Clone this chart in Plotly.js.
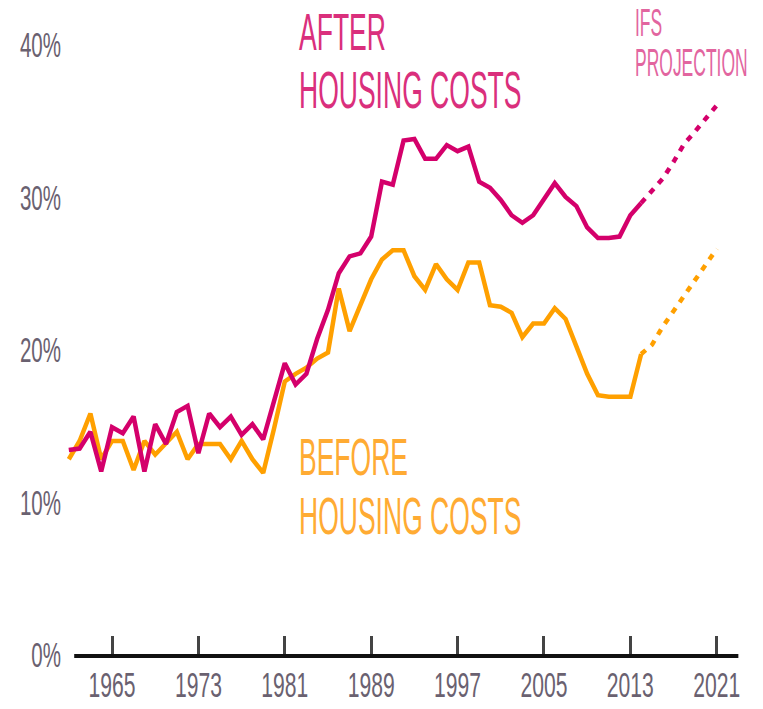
<!DOCTYPE html>
<html>
<head>
<meta charset="utf-8">
<script src="https://cdn.plot.ly/plotly-3.0.1.min.js"></script>
<style>
  html, body { margin: 0; padding: 0; background: #ffffff; }
  #chart { width: 763px; height: 709px; }
</style>
</head>
<body>
<div id="chart"></div>
<script>
// ---- Data ----
const years = [1961, 1962, 1963, 1964, 1965, 1966, 1967, 1968, 1969, 1970,
               1971, 1972, 1973, 1974, 1975, 1976, 1977, 1978, 1979, 1980,
               1981, 1982, 1983, 1984, 1985, 1986, 1987, 1988, 1989, 1990,
               1991, 1992, 1993, 1994, 1995, 1996, 1997, 1998, 1999, 2000,
               2001, 2002, 2003, 2004, 2005, 2006, 2007, 2008, 2009, 2010,
               2011, 2012, 2013, 2014];

// After housing costs (%)
const afterHousing = [13.4, 13.5, 14.6, 12.0, 14.9, 14.5, 15.6, 12.0, 15.1, 13.8,
                      15.9, 16.3, 13.2, 15.8, 14.9, 15.6, 14.4, 15.1, 14.1, 16.6,
                      19.1, 17.7, 18.4, 20.7, 22.6, 25.0, 26.1, 26.3, 27.4, 31.0,
                      30.8, 33.7, 33.8, 32.5, 32.5, 33.4, 33.0, 33.3, 31.0, 30.6,
                      29.8, 28.8, 28.3, 28.8, 29.9, 30.9, 30.0, 29.4, 28.0, 27.3,
                      27.3, 27.4, 28.8, 29.6];

// Before housing costs (%)
const beforeHousing = [12.8, 14.0, 15.8, 12.8, 14.0, 14.0, 12.1, 14.0, 13.1, 13.8,
                       14.6, 12.8, 13.8, 13.8, 13.8, 12.8, 14.0, 12.8, 11.9, 14.8,
                       17.9, 18.4, 18.8, 19.4, 19.8, 24.0, 21.2, 22.9, 24.6, 25.9,
                       26.5, 26.5, 24.8, 23.9, 25.6, 24.6, 23.9, 25.7, 25.7, 22.9,
                       22.8, 22.4, 20.8, 21.7, 21.7, 22.7, 22.0, 20.2, 18.4, 17.0,
                       16.9, 16.9, 16.9, 19.7];

// IFS projection
const projYears = [2014, 2015, 2016, 2017, 2018, 2019, 2020, 2021];
const afterProj  = [29.6, 30.4, 31.2, 32.3, 33.5, 34.3, 35.1, 36.0];
const beforeProj = [19.7, 20.3, 21.5, 22.5, 23.5, 24.5, 25.5, 26.6];

// Axis ticks
const xTickVals = [1965, 1973, 1981, 1989, 1997, 2005, 2013, 2021];
const xTickText = ['1965', '1973', '1981', '1989', '1997', '2005', '2013', '2021'];
const yTickVals = [0, 10, 20, 30, 40];
const yTickText = ['0%', '10%', '20%', '30%', '40%'];

// Labels
const labelAfter1 = 'AFTER';
const labelAfter2 = 'HOUSING COSTS';
const labelBefore1 = 'BEFORE';
const labelBefore2 = 'HOUSING COSTS';
const labelProj1 = 'IFS';
const labelProj2 = 'PROJECTION';

// ---- Styling ----
const MAGENTA = '#d4006b';
const ORANGE = '#ffa000';
const FONT = "'Liberation Sans', Arial, sans-serif";
const TICKGREY = '#6a6170';

const traces = [
  { x: years, y: beforeHousing, type: 'scatter', mode: 'lines',
    line: { color: ORANGE, width: 4.5, shape: 'linear' }, hoverinfo: 'skip', showlegend: false },
  { x: years, y: afterHousing, type: 'scatter', mode: 'lines',
    line: { color: MAGENTA, width: 4.5, shape: 'linear' }, hoverinfo: 'skip', showlegend: false },
  { x: projYears, y: beforeProj, type: 'scatter', mode: 'lines',
    line: { color: ORANGE, width: 4.5, dash: '6px,7px' }, hoverinfo: 'skip', showlegend: false },
  { x: projYears, y: afterProj, type: 'scatter', mode: 'lines',
    line: { color: MAGENTA, width: 4.5, dash: '6px,7px' }, hoverinfo: 'skip', showlegend: false }
];

function ann(text, x, y, size, color) {
  return { text: text, x: x, y: y, xref: 'x', yref: 'y', xanchor: 'left', yanchor: 'middle',
           showarrow: false, font: { family: FONT, size: size, color: color } };
}

const layout = {
  width: 763, height: 709,
  margin: { l: 62, r: 20, t: 20, b: 53 },
  paper_bgcolor: '#ffffff', plot_bgcolor: '#ffffff',
  showlegend: false,
  xaxis: {
    range: [1960.37, 2023.43],
    tickmode: 'array', tickvals: xTickVals, ticktext: xTickText, tickangle: 0,
    ticks: 'inside', ticklen: 20, tickwidth: 3, tickcolor: '#444444',
    showgrid: false, zeroline: false, showline: false,
    tickfont: { family: FONT, size: 36, color: TICKGREY },
    ticklabelstandoff: 4, ticklabeloverflow: 'allow'
  },
  yaxis: {
    range: [-0.1, 41.6],
    tickmode: 'array', tickvals: yTickVals, ticktext: yTickText,
    ticks: '', showgrid: false, zeroline: false, showline: false,
    tickfont: { family: FONT, size: 36, color: TICKGREY }
  },
  shapes: [
    { type: 'line', xref: 'x', yref: 'paper', x0: 1961.5, x1: 2023.0, y0: 0, y1: 0,
      line: { color: '#111111', width: 4 } }
  ],
  annotations: [
    ann(labelAfter1, 1982.15, 40.82, 52, '#da2f7c'),
    ann(labelAfter2, 1982.15, 36.98, 52, '#da2f7c'),
    ann(labelBefore1, 1982.15, 12.92, 52, '#ffab33'),
    ann(labelBefore2, 1982.15, 9.08, 52, '#ffab33'),
    ann(labelProj1, 2013.2, 41.38, 38, '#e2659f'),
    ann(labelProj2, 2013.2, 38.78, 38, '#e2659f')
  ]
};

// Horizontally condense a text element (the reference uses a tall condensed face)
function squeeze(el, s, origin) {
  if (!el) return;
  const bb = el.getBBox();
  const ox = origin === 'left' ? bb.x : (origin === 'right' ? bb.x + bb.width : bb.x + bb.width / 2);
  const prev = el.getAttribute('transform') || '';
  el.setAttribute('transform', prev + ' translate(' + ox + ',0) scale(' + s + ',1) translate(' + (-ox) + ',0)');
}

Plotly.newPlot('chart', traces, layout, { displayModeBar: false, staticPlot: true }).then(function (gd) {
  gd.querySelectorAll('.xtick text').forEach(function (t) { squeeze(t, 0.587, 'center'); });
  gd.querySelectorAll('.ytick text').forEach(function (t) { squeeze(t, 0.57, 'right'); });
  gd.querySelectorAll('g.annotation').forEach(function (g) {
    const idx = +g.getAttribute('data-index');
    squeeze(g.querySelector('.annotation-text'), idx >= 4 ? 0.46 : 0.51, 'left');
  });
});
</script>
</body>
</html>
